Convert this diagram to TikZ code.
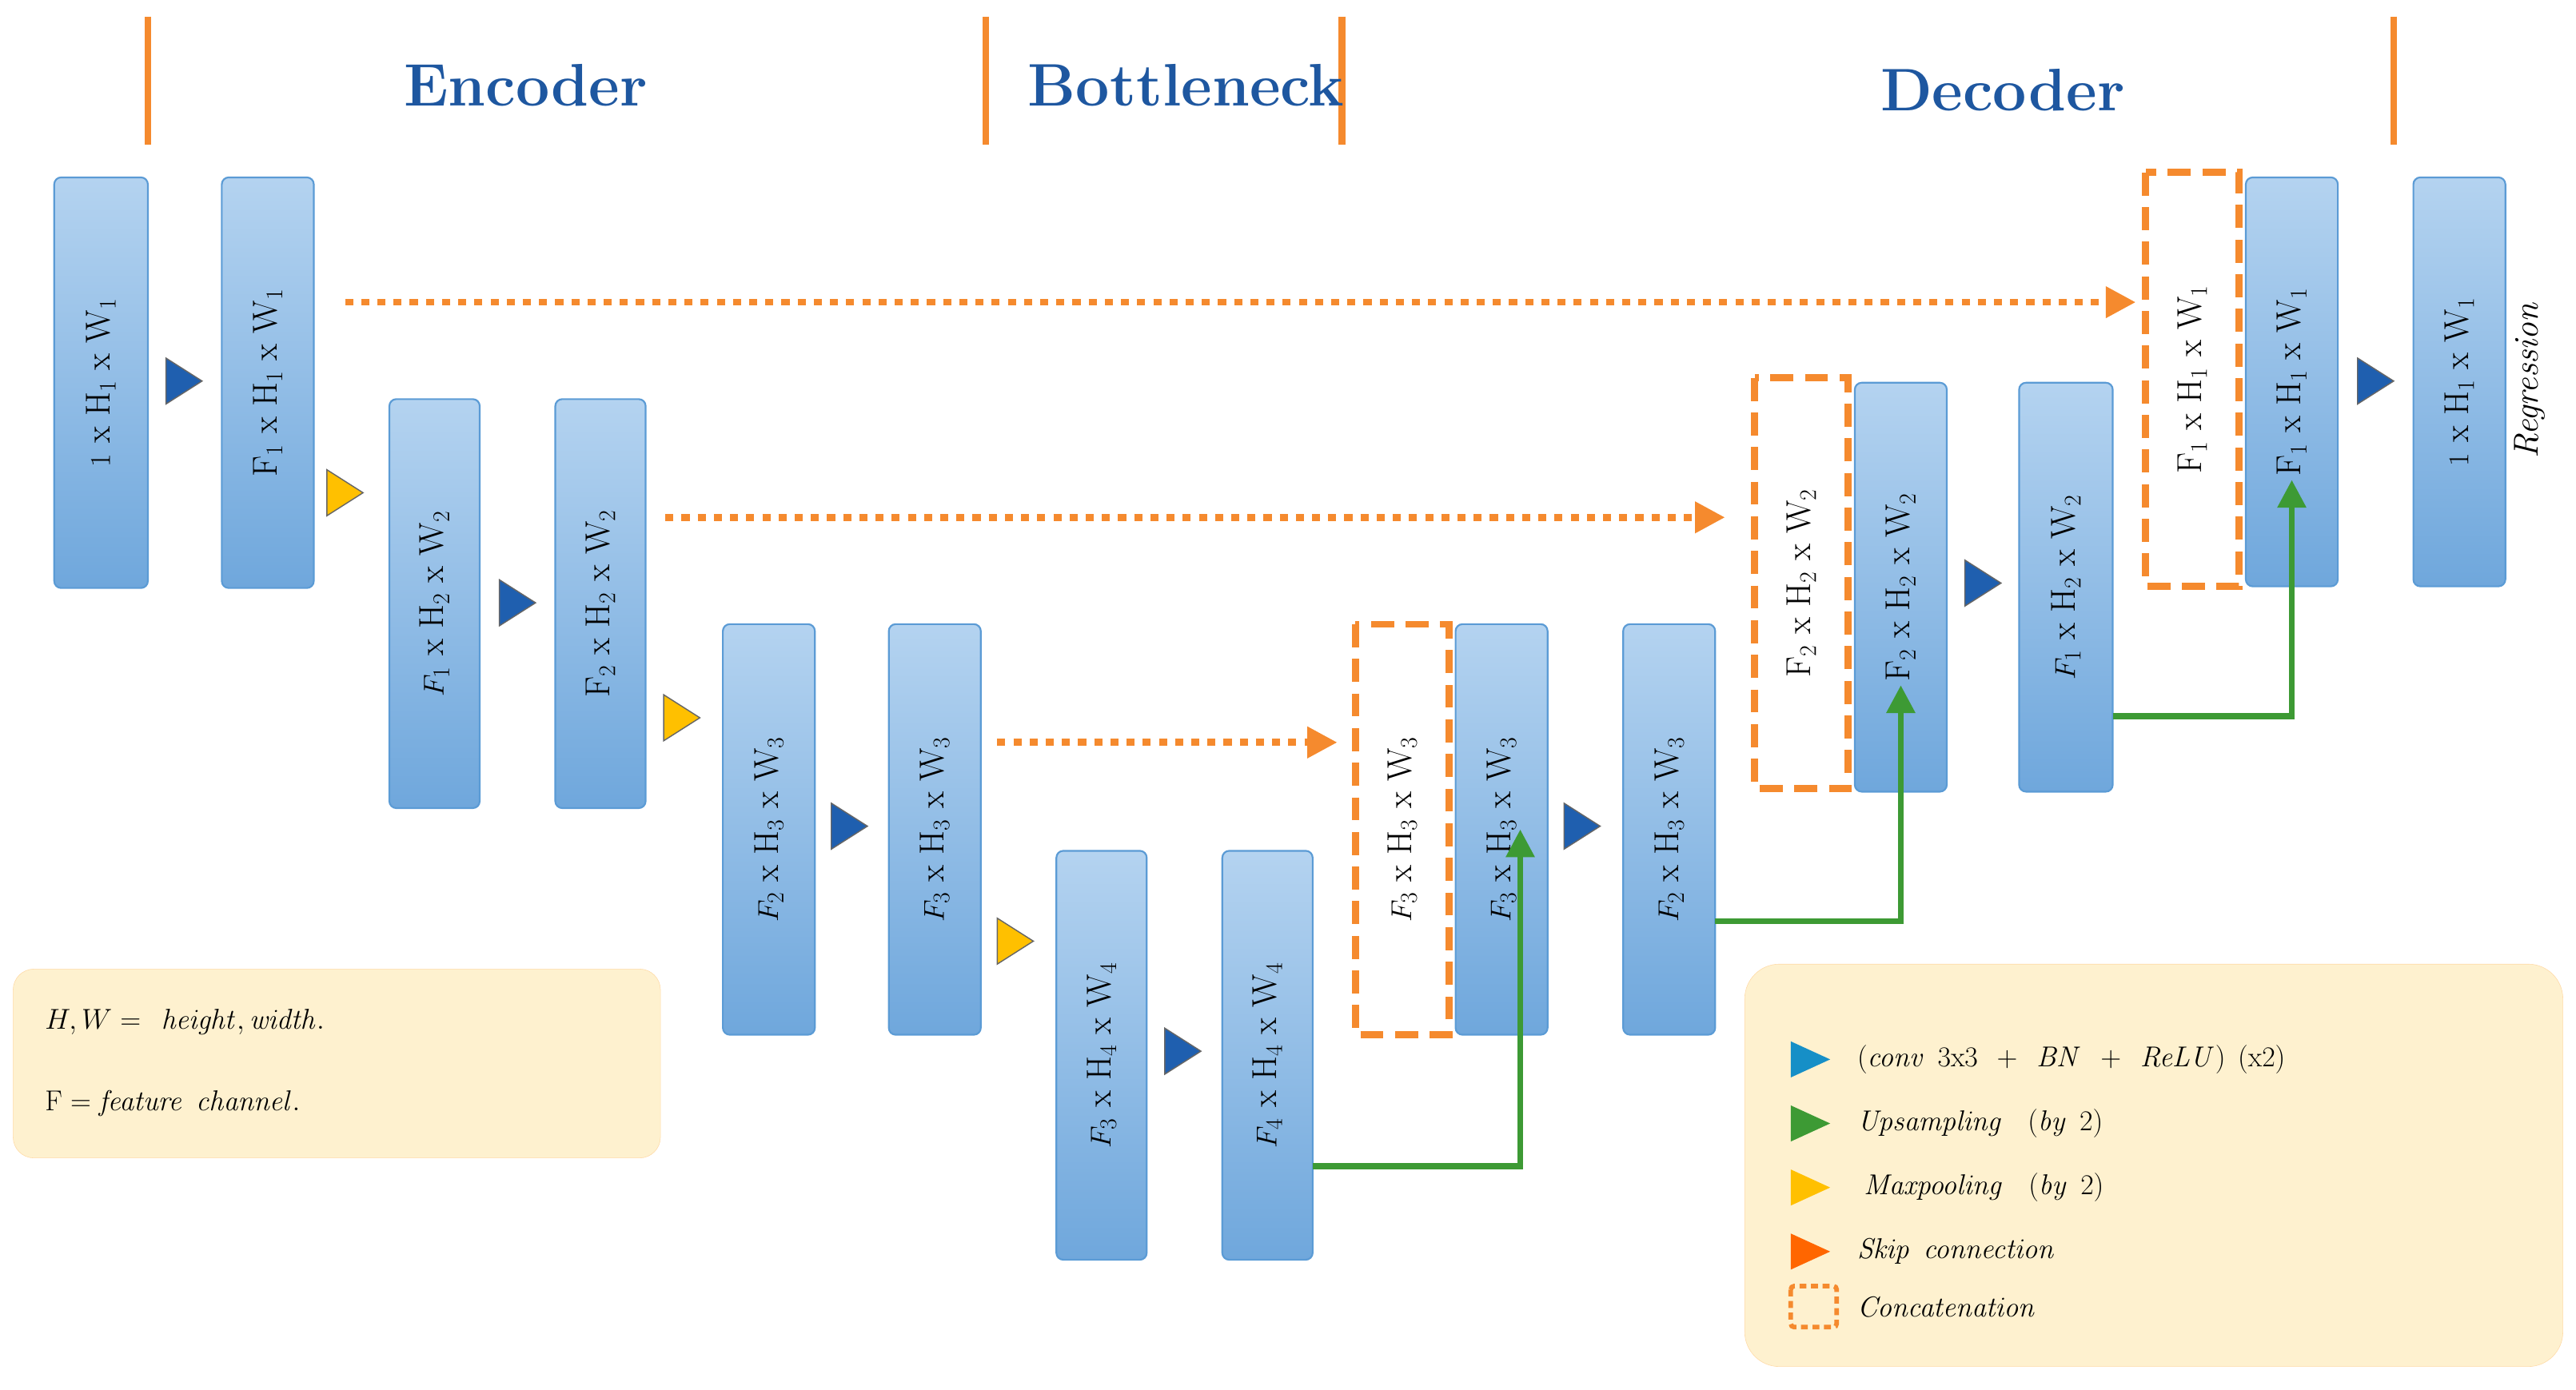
\documentclass[tikz,border=0pt]{standalone}
\usepackage{amsmath}
\usetikzlibrary{arrows.meta}
\definecolor{bxtop}{HTML}{B4D3F0}
\definecolor{bxbot}{HTML}{6FA7DC}
\definecolor{bxline}{HTML}{5B9BD5}
\definecolor{og}{HTML}{F58A2E}
\definecolor{gr}{HTML}{3D9A34}
\definecolor{tb}{HTML}{1F5FAF}
\definecolor{ty}{HTML}{FFC000}
\definecolor{lg}{HTML}{FEF1CF}
\definecolor{hd}{HTML}{1E57A0}
\begin{document}
\begin{tikzpicture}[x=0.05cm,y=-0.05cm,
  bx/.style={rounded corners=6pt,draw=bxline,line width=1.5pt,top color=bxtop,bottom color=bxbot},
  dbx/.style={draw=og,line width=6pt,dash pattern=on 20pt off 10pt,fill=white},
  lbl/.style={rotate=90,font=\fontsize{30}{34}\selectfont},
  skip/.style={og,line width=6pt,dash pattern=on 7pt off 7pt,-{Triangle[length=26pt,width=26pt]}},
  up/.style={gr,line width=5pt,-{Triangle[length=24pt,width=24pt]}},
  hdr/.style={font=\fontsize{52}{60}\selectfont\bfseries,text=hd},
  leg/.style={font=\fontsize{36}{42}\selectfont,anchor=west}]
\useasboundingbox (0,0) rectangle (1568,846);
\newcommand\bx[6]{\path[bx] (#1,#2) rectangle (#3,#4);
  \node[lbl] (#6) at ({(#1+#3)/2},{(#2+#4)/2}) {#5};}
\newcommand\dbx[6]{\path[dbx] (#1,#2) rectangle (#3,#4);
  \node[lbl] (#6) at ({(#1+#3)/2},{(#2+#4)/2}) {#5};}
\newcommand\tri[3]{\fill[#3,draw=black!60,line width=1pt] (#1-9,#2-14) -- (#1+13,#2) -- (#1-9,#2+14) -- cycle;}
% headers
\foreach \x in {90,600,817,1457}{\draw[og,line width=6pt] (\x,10) -- (\x,88);}
\node[hdr] (h1) at (320,52) {Encoder};
\node[hdr] (h2) at (722,52) {Bottleneck};
\node[hdr] (h3) at (1219,55) {Decoder};
% boxes
\bx{33}{108}{90}{358}{$1$ x H$_1$ x W$_1$}{b1}
\bx{135}{108}{191}{358}{F$_1$ x H$_1$ x W$_1$}{b2}
\bx{237}{243}{292}{492}{$F_1$ x H$_2$ x W$_2$}{b3}
\bx{338}{243}{393}{492}{F$_2$ x H$_2$ x W$_2$}{b4}
\bx{440}{380}{496}{630}{$F_2$ x H$_3$ x W$_3$}{b5}
\bx{541}{380}{597}{630}{$F_3$ x H$_3$ x W$_3$}{b6}
\bx{643}{518}{698}{767}{$F_3$ x H$_4$ x W$_4$}{b7}
\bx{744}{518}{799}{767}{$F_4$ x H$_4$ x W$_4$}{b8}
\dbx{825}{380}{882}{630}{$F_3$ x H$_3$ x W$_3$}{d1}
\bx{886}{380}{942}{630}{$F_3$ x H$_3$ x W$_3$}{b9}
\bx{988}{380}{1044}{630}{$F_2$ x H$_3$ x W$_3$}{b10}
\dbx{1068}{230}{1125}{480}{F$_2$ x H$_2$ x W$_2$}{d2}
\bx{1129}{233}{1185}{482}{F$_2$ x H$_2$ x W$_2$}{b11}
\bx{1229}{233}{1286}{482}{$F_1$ x H$_2$ x W$_2$}{b12}
\dbx{1306}{105}{1363}{357}{F$_1$ x H$_1$ x W$_1$}{d3}
\bx{1367}{108}{1423}{357}{F$_1$ x H$_1$ x W$_1$}{b13}
\bx{1469}{108}{1525}{357}{$1$ x H$_1$ x W$_1$}{b14}
\node[rotate=90,font=\fontsize{30}{34}\selectfont\itshape] (reg) at (1540,232) {Regression};
% triangles
\tri{110}{232}{tb}\tri{313}{367}{tb}\tri{515}{503}{tb}\tri{718}{640}{tb}
\tri{961}{503}{tb}\tri{1205}{355}{tb}\tri{1444}{232}{tb}
\tri{208}{300}{ty}\tri{413}{437}{ty}\tri{616}{573}{ty}
% skip connections
\coordinate (s1) at (210,184); \coordinate (e1) at (1300,184);
\coordinate (s2) at (405,315); \coordinate (e2) at (1050,315);
\coordinate (s3) at (607,452); \coordinate (e3) at (814,452);
\draw[skip] (s1) -- (e1);
\draw[skip] (s2) -- (e2);
\draw[skip] (s3) -- (e3);
% upsampling
\draw[up] (b8.north |- 0,710) ++(0,0) (799,710) -| (b9.south);
\draw[up] (1044,561) -| (b11.west);
\draw[up] (1286,436) -| (b13.west);
% legends
\path[fill=lg,draw=lg!80!orange,rounded corners=18pt] (8,590) rectangle (402,705);
\node[leg] (l1) at (25,622) {$H,W=\ \mathit{height,width.}$};
\node[leg] (l2) at (25,672) {$\mathrm{F} = \mathit{feature\ channel.}$};
\path[fill=lg,draw=lg!80!orange,rounded corners=30pt] (1062,587) rectangle (1560,832);
\fill[tb!70!cyan] (1090,634) -- (1114,645) -- (1090,656) -- cycle;
\fill[gr] (1090,673) -- (1114,684) -- (1090,695) -- cycle;
\fill[ty] (1090,712) -- (1114,723) -- (1090,734) -- cycle;
\fill[orange!80!red] (1090,751) -- (1114,762) -- (1090,773) -- cycle;
\draw[og,line width=4pt,dash pattern=on 6pt off 4pt,rounded corners=3pt] (1090,783) rectangle (1118,808);
\node[leg] (g1) at (1128,645) {$(\mathit{conv}\ 3\mathrm{x}3\ +\ \mathit{BN}\ +\ \mathit{ReLU})\ (\mathrm{x}2)$};
\node[leg] (g2) at (1128,684) {$\mathit{Upsampling}\ \ (\mathit{by}\ 2)$};
\node[leg] (g3) at (1132,723) {$\mathit{Maxpooling}\ \ (\mathit{by}\ 2)$};
\node[leg] (g4) at (1128,762) {$\mathit{Skip\ connection}$};
\node[leg] (g5) at (1128,796) {$\mathit{Concatenation}$};
\end{tikzpicture}
\end{document}
